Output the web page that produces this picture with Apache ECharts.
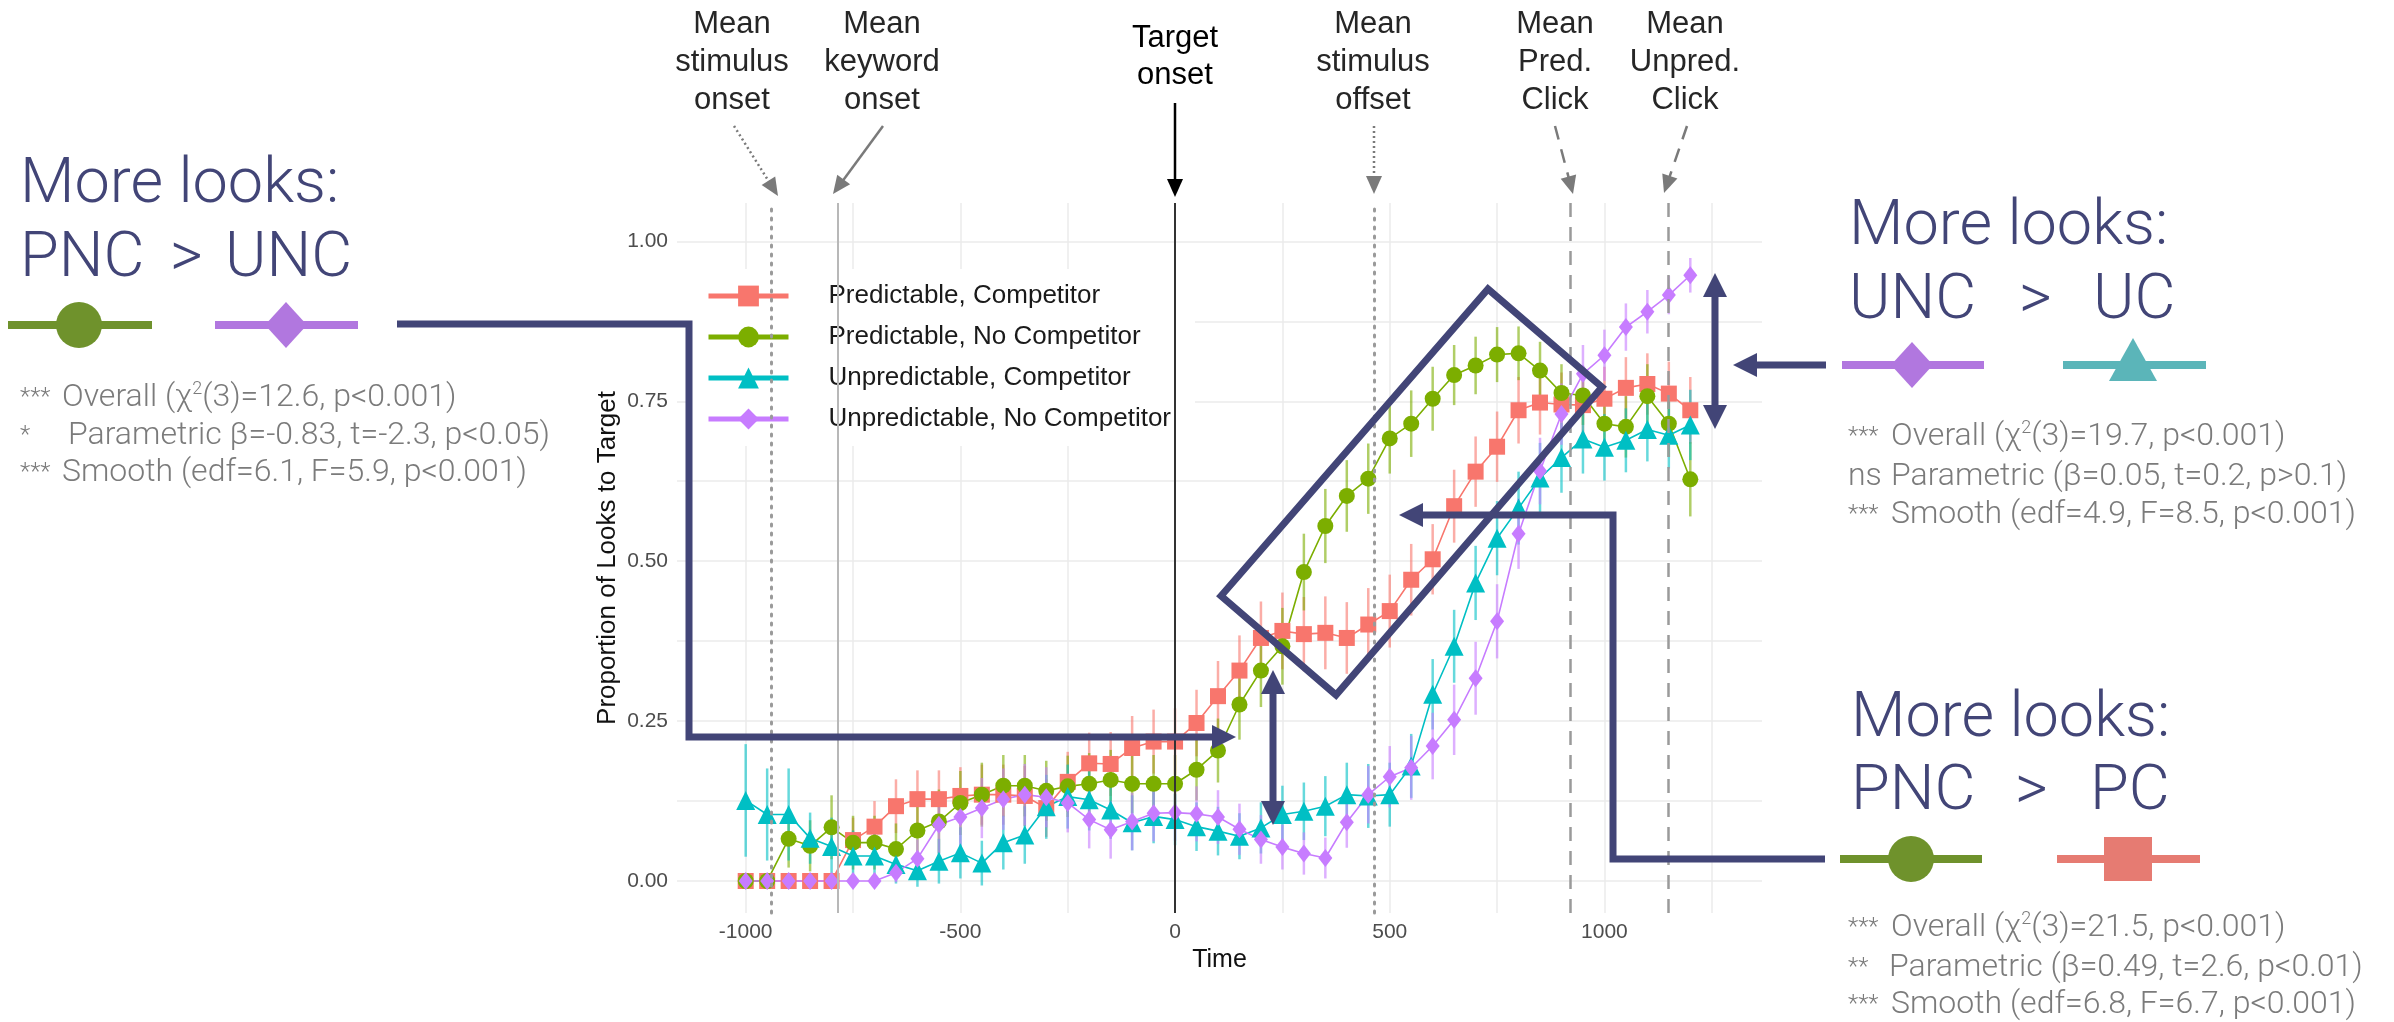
<!DOCTYPE html>
<html>
<head>
<meta charset="utf-8">
<script src="https://cdn.jsdelivr.net/npm/echarts@6/dist/echarts.min.js"></script>
<style>
  html, body { margin: 0; padding: 0; background: #fff; }
  #chart { width: 2394px; height: 1022px; }
</style>
</head>
<body>
<div id="chart"></div>
<script>
// time bins (ms)
const time = [-1000, -950, -900, -850, -800, -750, -700, -650, -600, -550, -500, -450, -400, -350, -300, -250, -200, -150, -100, -50,
  0, 50, 100, 150, 200, 250, 300, 350, 400, 450, 500, 550, 600, 650, 700, 750, 800, 850, 900, 950, 1000, 1050, 1100, 1150, 1200];

// proportion of looks to target
const predComp = [0, 0, 0, 0, 0, 0.064, 0.085, 0.117, 0.128, 0.128, 0.133, 0.135, 0.135, 0.133, 0.114, 0.155, 0.184, 0.183, 0.208, 0.218,
  0.218, 0.247, 0.289, 0.329, 0.380, 0.391, 0.386, 0.388, 0.380, 0.401, 0.422, 0.471, 0.503, 0.586, 0.640, 0.679, 0.736, 0.748, 0.745, 0.744, 0.754, 0.771, 0.777, 0.762, 0.736];
const predNoComp = [0, 0, 0.066, 0.055, 0.084, 0.06, 0.06, 0.05, 0.079, 0.093, 0.122, 0.135, 0.149, 0.149, 0.141, 0.148, 0.152, 0.158, 0.152, 0.152,
  0.152, 0.174, 0.204, 0.276, 0.329, 0.367, 0.483, 0.555, 0.602, 0.629, 0.692, 0.715, 0.754, 0.791, 0.806, 0.823, 0.825, 0.798, 0.763, 0.759, 0.715, 0.710, 0.758, 0.715, 0.628];
const unpredComp = [0.126, 0.104, 0.104, 0.067, 0.054, 0.039, 0.039, 0.026, 0.016, 0.031, 0.044, 0.028, 0.060, 0.072, 0.116, 0.132, 0.127, 0.111, 0.091, 0.101,
  0.096, 0.085, 0.078, 0.070, 0.083, 0.104, 0.109, 0.117, 0.135, 0.133, 0.135, 0.180, 0.292, 0.367, 0.466, 0.536, 0.583, 0.630, 0.662, 0.691, 0.678, 0.689, 0.706, 0.697, 0.713];
const unpredNoComp = [0, 0, 0, 0, 0, 0, 0, 0.013, 0.035, 0.088, 0.100, 0.114, 0.128, 0.135, 0.131, 0.122, 0.096, 0.080, 0.093, 0.106,
  0.107, 0.105, 0.100, 0.081, 0.065, 0.053, 0.043, 0.036, 0.092, 0.135, 0.163, 0.177, 0.211, 0.252, 0.317, 0.406, 0.543, 0.641, 0.730, 0.793, 0.822, 0.866, 0.890, 0.916, 0.947];

// error bar half-lengths
const predCompErr = [0, 0, 0, 0, 0, 0.035, 0.04, 0.042, 0.045, 0.045, 0.045, 0.047, 0.047, 0.047, 0.045, 0.047, 0.048, 0.05, 0.05, 0.05,
  0.052, 0.052, 0.055, 0.055, 0.057, 0.06, 0.058, 0.057, 0.056, 0.057, 0.057, 0.056, 0.055, 0.057, 0.055, 0.055, 0.052, 0.05, 0.05, 0.05, 0.05, 0.048, 0.048, 0.05, 0.052];
const predNoCompErr = [0, 0, 0.045, 0.04, 0.05, 0.042, 0.042, 0.04, 0.047, 0.05, 0.05, 0.05, 0.048, 0.048, 0.047, 0.048, 0.048, 0.047, 0.046, 0.045,
  0.045, 0.048, 0.05, 0.055, 0.057, 0.06, 0.06, 0.058, 0.056, 0.055, 0.055, 0.052, 0.05, 0.047, 0.045, 0.043, 0.042, 0.045, 0.045, 0.046, 0.048, 0.048, 0.05, 0.052, 0.058];
const unpredCompErr = [0.088, 0.072, 0.072, 0.04, 0.045, 0.04, 0.04, 0.03, 0.025, 0.035, 0.04, 0.035, 0.042, 0.045, 0.05, 0.05, 0.048, 0.045, 0.043, 0.042,
  0.04, 0.038, 0.038, 0.036, 0.04, 0.045, 0.045, 0.047, 0.05, 0.05, 0.05, 0.05, 0.055, 0.057, 0.058, 0.058, 0.057, 0.055, 0.055, 0.054, 0.052, 0.05, 0.05, 0.052, 0.055];
const unpredNoCompErr = [0, 0, 0, 0, 0, 0, 0, 0.015, 0.03, 0.045, 0.045, 0.047, 0.048, 0.048, 0.047, 0.046, 0.045, 0.045, 0.045, 0.044,
  0.044, 0.043, 0.042, 0.04, 0.038, 0.035, 0.033, 0.032, 0.04, 0.045, 0.048, 0.05, 0.052, 0.055, 0.057, 0.058, 0.055, 0.052, 0.048, 0.045, 0.04, 0.037, 0.034, 0.03, 0.027];

const seriesNames = ['Predictable, Competitor', 'Predictable, No Competitor', 'Unpredictable, Competitor', 'Unpredictable, No Competitor'];

// axis ticks
const xGridValues = [-1000, -750, -500, -250, 0, 250, 500, 750, 1000, 1250];
const xLabelValues = [-1000, -500, 0, 500, 1000];
const yGridValues = [0, 0.125, 0.25, 0.375, 0.5, 0.625, 0.75, 0.875, 1];
const yLabelValues = [0, 0.25, 0.5, 0.75, 1];

// mean event times (ms)
const eventTimes = [-940, -785, 0, 464, 921, 1148];

const colors = ['#f8766d', '#7cae00', '#00bfc4', '#c77cff'];
const symbols = ['rect', 'circle', 'triangle', 'diamond'];
const symbolSizes = [16, 16, 19, [14, 18]];
const navy = '#424577';
const FONT = 'Liberation Sans, Arial, sans-serif';
const LIGHT = 'Roboto, Liberation Sans, sans-serif';

const values = [predComp, predNoComp, unpredComp, unpredNoComp];
const errs = [predCompErr, predNoCompErr, unpredCompErr, unpredNoCompErr];

const chart = echarts.init(document.getElementById('chart'));

// error bars
const errSeries = values.map((vals, k) => ({
  type: 'custom',
  name: 'err' + k,
  silent: true,
  z: 2,
  data: time.map((t, i) => [t, vals[i] - errs[k][i], vals[i] + errs[k][i]]),
  encode: { x: 0, y: [1, 2] },
  renderItem(params, api) {
    const lo = api.coord([api.value(0), api.value(1)]);
    const hi = api.coord([api.value(0), api.value(2)]);
    return {
      type: 'line',
      shape: { x1: lo[0], y1: lo[1], x2: hi[0], y2: hi[1] },
      style: { stroke: colors[k], lineWidth: 2.5, opacity: 0.6 }
    };
  }
}));

// lines + points
const lineSeries = values.map((vals, k) => ({
  type: 'line',
  name: seriesNames[k],
  data: time.map((t, i) => [t, vals[i]]),
  symbol: symbols[k],
  symbolSize: symbolSizes[k],
  showAllSymbol: true,
  z: 3,
  lineStyle: { color: colors[k], width: 1.6 },
  itemStyle: { color: colors[k], opacity: 1 },
  emphasis: { disabled: true }
}));

// vertical reference lines
const refStyles = [
  { color: '#9a9a9a', width: 3, type: [2, 7], cap: 'round' },
  { color: '#b8b8b8', width: 2, type: 'solid' },
  { color: '#333', width: 2, type: 'solid' },
  { color: '#9a9a9a', width: 3, type: [2, 7], cap: 'round' },
  { color: '#9a9a9a', width: 2.5, type: [14, 10] },
  { color: '#9a9a9a', width: 2.5, type: [14, 10] }
];
const refSeries = {
  type: 'line',
  name: 'refs',
  data: [],
  silent: true,
  z: 1,
  markLine: {
    silent: true,
    symbol: ['none', 'none'],
    label: { show: false },
    emphasis: { disabled: true },
    data: eventTimes.map((t, i) => ({ xAxis: t, lineStyle: refStyles[i] }))
  }
};

// ---- annotation helpers (pixel space) ----
function arrowHead(tip, from, len, half, color) {
  const dx = tip[0] - from[0], dy = tip[1] - from[1];
  const d = Math.hypot(dx, dy);
  const ux = dx / d, uy = dy / d;
  const bx = tip[0] - ux * len, by = tip[1] - uy * len;
  return {
    type: 'polygon', z: 100, silent: true,
    shape: { points: [tip, [bx - uy * half, by + ux * half], [bx + uy * half, by - ux * half]] },
    style: { fill: color }
  };
}
function arrow(from, tip, color, width, dash, len, half) {
  const dx = tip[0] - from[0], dy = tip[1] - from[1];
  const d = Math.hypot(dx, dy);
  const end = [tip[0] - dx / d * len * 0.8, tip[1] - dy / d * len * 0.8];
  return [
    { type: 'line', z: 100, silent: true, shape: { x1: from[0], y1: from[1], x2: end[0], y2: end[1] },
      style: { stroke: color, lineWidth: width, lineDash: dash || null } },
    arrowHead(tip, from, len, half, color)
  ];
}
function text(x, y, str, size, color, opts) {
  return {
    type: 'text', z: 101, silent: true, x: x, y: y,
    style: Object.assign({
      text: str, fontSize: size, fontFamily: FONT, fill: color,
      align: 'left', verticalAlign: 'middle'
    }, opts || {})
  };
}
function glyphLine(x1, x2, y, color) {
  return { type: 'line', z: 101, silent: true, shape: { x1: x1, y1: y, x2: x2, y2: y }, style: { stroke: color, lineWidth: 8 } };
}
const gGreen = '#6f922c', gPurple = '#b177df', gTeal = '#5bb5b9', gRed = '#e67b72';
const glyph = {
  circle: (cx, cy) => ({ type: 'circle', z: 102, silent: true, shape: { cx: cx, cy: cy, r: 23 }, style: { fill: gGreen } }),
  diamond: (cx, cy) => ({ type: 'polygon', z: 102, silent: true, shape: { points: [[cx, cy - 23], [cx + 21, cy], [cx, cy + 23], [cx - 21, cy]] }, style: { fill: gPurple } }),
  triangle: (cx, cy) => ({ type: 'polygon', z: 102, silent: true, shape: { points: [[cx, cy - 27], [cx + 24, cy + 16], [cx - 24, cy + 16]] }, style: { fill: gTeal } }),
  square: (cx, cy) => ({ type: 'rect', z: 102, silent: true, shape: { x: cx - 24, y: cy - 22, width: 48, height: 44 }, style: { fill: gRed } })
};
function statRows(xStar, rows) {
  const out = [];
  rows.forEach(r => {
    const isNs = r[0] === 'ns';
    out.push(text(xStar, r[3], r[0], isNs ? 32 : 24, '#7b7b7b', { fontFamily: LIGHT, fontWeight: 300 }));
    out.push(text(r[1], r[3], r[2], 32, '#7b7b7b', {
      fontFamily: LIGHT, fontWeight: 300,
      rich: { s: { fontSize: 18, fontFamily: LIGHT, fontWeight: 300, fill: '#7b7b7b', verticalAlign: 'top', lineHeight: 35 } }
    }));
  });
  return out;
}
function heading(tokens, y) {
  return tokens.map(tk => text(tk[0], y, tk[1], 63, navy, { fontFamily: LIGHT, fontWeight: 300 }));
}

const topLabels = [
  [732, 'Mean\nstimulus\nonset'],
  [882, 'Mean\nkeyword\nonset'],
  [1373, 'Mean\nstimulus\noffset'],
  [1555, 'Mean\nPred.\nClick'],
  [1685, 'Mean\nUnpred.\nClick']
];

const annot = [];
topLabels.forEach(l => annot.push(text(l[0], 62, l[1], 31, '#262626', { align: 'center', lineHeight: 38 })));
annot.push(text(1175, 57, 'Target\nonset', 31, '#000', { align: 'center', lineHeight: 37 }));
annot.push(...arrow([734, 126], [778, 196], '#7a7a7a', 2.5, [2, 3], 18, 8));
annot.push(...arrow([883, 126], [833, 194], '#7a7a7a', 2.5, null, 18, 8));
annot.push(...arrow([1175, 103], [1175, 197], '#000', 2.5, null, 18, 8));
annot.push(...arrow([1374, 126], [1374, 194], '#7a7a7a', 2.5, [2, 3], 18, 8));
annot.push(...arrow([1555, 126], [1573, 194], '#7a7a7a', 2.5, [14, 10], 18, 8));
annot.push(...arrow([1687, 126], [1664, 193], '#7a7a7a', 2.5, [14, 10], 18, 8));

// big navy headings
annot.push(...heading([[20, 'More looks:']], 186));
annot.push(...heading([[20, 'PNC'], [170, '>'], [225, 'UNC']], 260));
annot.push(...heading([[1849, 'More looks:']], 228));
annot.push(...heading([[1849, 'UNC'], [2019, '>'], [2093, 'UC']], 302));
annot.push(...heading([[1851, 'More looks:']], 720));
annot.push(...heading([[1851, 'PNC'], [2015, '>'], [2090, 'PC']], 793));

// glyph keys
annot.push(glyphLine(8, 152, 325, gGreen), glyph.circle(79, 325));
annot.push(glyphLine(215, 358, 325, gPurple), glyph.diamond(286, 325));
annot.push(glyphLine(1842, 1984, 365, gPurple), glyph.diamond(1912, 365));
annot.push(glyphLine(2063, 2206, 365, gTeal), glyph.triangle(2133, 365));
annot.push(glyphLine(1840, 1982, 859, gGreen), glyph.circle(1911, 859));
annot.push(glyphLine(2057, 2200, 859, gRed), glyph.square(2128, 859));

// statistics
annot.push(...statRows(20, [
  ['***', 62, 'Overall (χ{s|2}(3)=12.6, p<0.001)', 398],
  ['*', 68, 'Parametric β=-0.83, t=-2.3, p<0.05)', 436],
  ['***', 62, 'Smooth (edf=6.1, F=5.9, p<0.001)', 473]
]));
annot.push(...statRows(1848, [
  ['***', 1891, 'Overall (χ{s|2}(3)=19.7, p<0.001)', 437],
  ['ns', 1891, 'Parametric (β=0.05, t=0.2, p>0.1)', 477],
  ['***', 1891, 'Smooth (edf=4.9, F=8.5, p<0.001)', 515]
]));
annot.push(...statRows(1848, [
  ['***', 1891, 'Overall (χ{s|2}(3)=21.5, p<0.001)', 928],
  ['**', 1889, 'Parametric (β=0.49, t=2.6, p<0.01)', 968],
  ['***', 1891, 'Smooth (edf=6.8, F=6.7, p<0.001)', 1005]
]));

// navy brackets, box and arrows
const navyLine = { stroke: navy, lineWidth: 7, fill: null, lineJoin: 'miter' };
annot.push({ type: 'polyline', z: 100, silent: true, shape: { points: [[397, 324], [689, 324], [689, 737], [1216, 737]] }, style: navyLine });
annot.push(arrowHead([1236, 737], [1200, 737], 24, 12, navy));
annot.push({ type: 'polyline', z: 100, silent: true, shape: { points: [[1825, 859], [1613, 859], [1613, 515], [1418, 515]] }, style: navyLine });
annot.push(arrowHead([1399, 515], [1430, 515], 24, 12, navy));
annot.push({ type: 'line', z: 100, silent: true, shape: { x1: 1826, y1: 365, x2: 1752, y2: 365 }, style: navyLine });
annot.push(arrowHead([1733, 365], [1760, 365], 24, 12, navy));
annot.push({ type: 'polygon', z: 100, silent: true, shape: { points: [[1221, 596], [1488, 289], [1602, 387], [1336, 695]] }, style: navyLine });
// double-headed vertical arrows
annot.push({ type: 'line', z: 100, silent: true, shape: { x1: 1273, y1: 688, x2: 1273, y2: 808 }, style: navyLine });
annot.push(arrowHead([1273, 670], [1273, 700], 24, 12, navy), arrowHead([1273, 825], [1273, 800], 24, 12, navy));
annot.push({ type: 'line', z: 100, silent: true, shape: { x1: 1715, y1: 292, x2: 1715, y2: 410 }, style: navyLine });
annot.push(arrowHead([1715, 273], [1715, 300], 24, 12, navy), arrowHead([1715, 429], [1715, 400], 24, 12, navy));

const option = {
  backgroundColor: '#fff',
  animation: false,
  grid: { left: 677, top: 203, width: 1085, height: 710, containLabel: false },
  legend: {
    data: seriesNames,
    orient: 'vertical',
    left: 690,
    top: 269,
    padding: [14, 24, 14, 16],
    backgroundColor: '#fff',
    itemWidth: 80,
    itemHeight: 26,
    itemGap: 15,
    selectedMode: false,
    lineStyle: { width: 5 },
    textStyle: { fontSize: 26, fontFamily: FONT, color: '#1a1a1a', padding: [0, 0, 0, 35] }
  },
  xAxis: {
    type: 'value',
    min: -1160,
    max: 1367,
    name: 'Time',
    nameLocation: 'middle',
    nameGap: 30,
    nameTextStyle: { fontSize: 25, fontFamily: FONT, color: '#111' },
    axisLine: { show: false },
    axisTick: { show: false, customValues: xGridValues },
    axisLabel: {
      customValues: xLabelValues, fontSize: 21, fontFamily: FONT, color: '#4d4d4d', margin: 9,
      formatter: v => String(v)
    },
    splitLine: { show: true, lineStyle: { color: '#ebebeb', width: 1.5 } }
  },
  yAxis: {
    type: 'value',
    min: -0.05,
    max: 1.06,
    name: 'Proportion of Looks to Target',
    nameLocation: 'middle',
    nameRotate: 90,
    nameGap: 56,
    nameTextStyle: { fontSize: 26, fontFamily: FONT, color: '#111' },
    axisLine: { show: false },
    axisTick: { show: false, customValues: yGridValues },
    axisLabel: {
      customValues: yLabelValues, fontSize: 21, fontFamily: FONT, color: '#4d4d4d', margin: 9,
      formatter: v => v.toFixed(2)
    },
    splitLine: { show: true, lineStyle: { color: '#ebebeb', width: 1.5 } }
  },
  series: [refSeries, ...errSeries, ...lineSeries],
  graphic: { elements: annot }
};

chart.setOption(option);
</script>
</body>
</html>
